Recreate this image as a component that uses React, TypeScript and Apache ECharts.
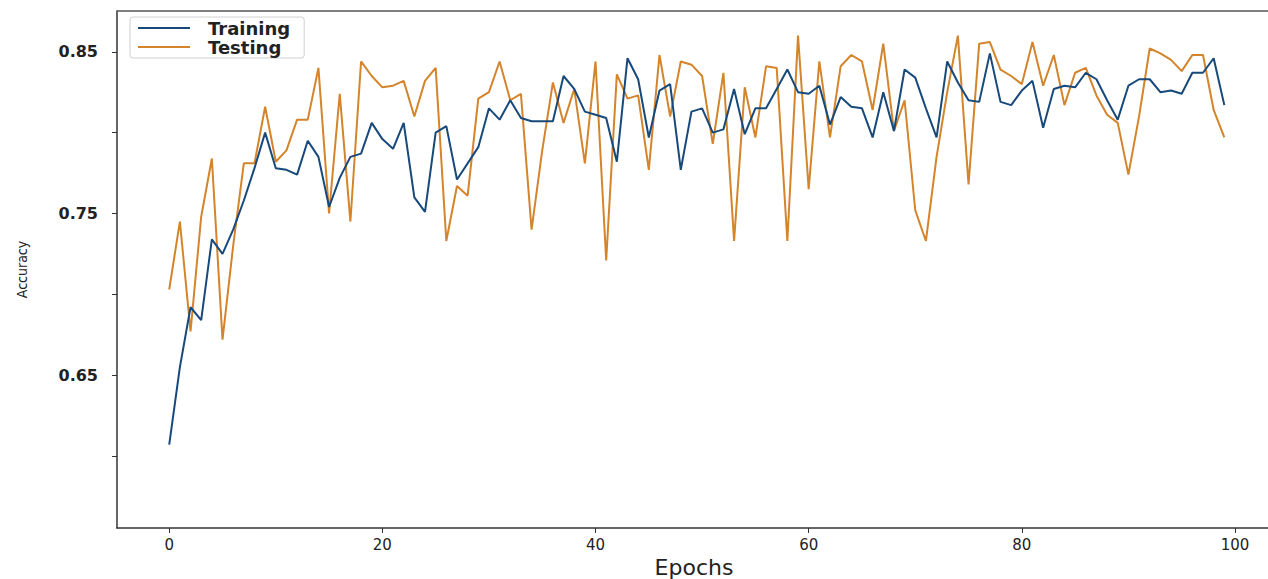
import React, { useEffect, useRef } from "react";
import * as echarts from "echarts";

const epochs: number[] = Array.from({ length: 100 }, (_, i) => i);

const training: number[] = [
  0.607, 0.655, 0.692, 0.684, 0.734, 0.725, 0.740, 0.758, 0.778, 0.800,
  0.778, 0.777, 0.774, 0.795, 0.785, 0.754, 0.772, 0.785, 0.787, 0.806,
  0.796, 0.790, 0.806, 0.760, 0.751, 0.800, 0.804, 0.771, 0.781, 0.791,
  0.815, 0.808, 0.820, 0.809, 0.807, 0.807, 0.807, 0.835, 0.827, 0.813,
  0.811, 0.809, 0.782, 0.846, 0.833, 0.797, 0.826, 0.830, 0.777, 0.813,
  0.815, 0.800, 0.802, 0.827, 0.799, 0.815, 0.815, 0.827, 0.839, 0.825,
  0.824, 0.829, 0.805, 0.822, 0.816, 0.815, 0.797, 0.825, 0.801, 0.839,
  0.834, 0.815, 0.797, 0.844, 0.831, 0.820, 0.819, 0.849, 0.819, 0.817,
  0.826, 0.832, 0.803, 0.827, 0.829, 0.828, 0.837, 0.833, 0.820, 0.808,
  0.829, 0.833, 0.833, 0.825, 0.826, 0.824, 0.837, 0.837, 0.846, 0.817,
];

const testing: number[] = [
  0.703, 0.745, 0.677, 0.748, 0.784, 0.672, 0.730, 0.781, 0.781, 0.816,
  0.782, 0.789, 0.808, 0.808, 0.840, 0.750, 0.824, 0.745, 0.844, 0.835,
  0.828, 0.829, 0.832, 0.810, 0.832, 0.840, 0.733, 0.767, 0.761, 0.821,
  0.825, 0.844, 0.820, 0.824, 0.740, 0.789, 0.831, 0.806, 0.827, 0.781,
  0.844, 0.721, 0.836, 0.821, 0.823, 0.777, 0.848, 0.810, 0.844, 0.842,
  0.835, 0.793, 0.837, 0.733, 0.828, 0.797, 0.841, 0.840, 0.733, 0.860,
  0.765, 0.844, 0.797, 0.841, 0.848, 0.844, 0.814, 0.855, 0.801, 0.820,
  0.752, 0.733, 0.785, 0.825, 0.860, 0.768, 0.855, 0.856, 0.839, 0.835,
  0.830, 0.856, 0.829, 0.848, 0.817, 0.837, 0.840, 0.823, 0.811, 0.806,
  0.774, 0.810, 0.852, 0.849, 0.845, 0.838, 0.848, 0.848, 0.814, 0.797,
];

const xTickValues: number[] = [0, 20, 40, 60, 80, 100];
const yTickValues: number[] = [0.6, 0.65, 0.7, 0.75, 0.8, 0.85];
const yLabelValues: number[] = [0.65, 0.75, 0.85];

const TRAIN_COLOR = "#17497a";
const TEST_COLOR = "#d4842b";
const AXIS_COLOR = "#333333";

export default function App() {
  const ref = useRef<HTMLDivElement>(null);

  useEffect(() => {
    if (!ref.current) return;
    const chart = echarts.init(ref.current, undefined, { renderer: "svg" });
    const option: any = {
      animation: false,
      backgroundColor: "#ffffff",
      grid: {
        left: 117,
        right: -3,
        top: 11,
        bottom: 51,
        containLabel: false,
        outerBounds: { left: -200, right: -200, top: -200, bottom: -200 },
      },
      legend: {
        orient: "vertical",
        left: 130,
        top: 17,
        itemWidth: 52,
        itemHeight: 2,
        itemGap: 1,
        padding: [2, 14, 2, 8],
        borderColor: "#d0d0d0",
        borderWidth: 1,
        borderRadius: 3,
        icon: "rect",
        data: ["Training", "Testing"],
        textStyle: {
          fontFamily: "DejaVu Sans",
          fontSize: 18,
          fontWeight: "bold",
          color: "#222",
          padding: [0, 0, 0, 13],
        },
      },
      graphic: [
        {
          type: "line",
          silent: true,
          z: 10,
          shape: { x1: 117, y1: 11, x2: 1268, y2: 11 },
          style: { stroke: "#555555", lineWidth: 1.5 },
        },
      ],
      xAxis: {
        type: "value",
        position: "bottom",
        min: -4.9,
        max: 103.38,
        name: "Epochs",
        nameLocation: "middle",
        nameGap: 24,
        nameTextStyle: { fontFamily: "DejaVu Sans", fontSize: 22, color: "#222" },
        axisLine: { show: true, onZero: false, lineStyle: { color: AXIS_COLOR, width: 1.5 } },
        axisTick: { show: true, length: 5, customValues: xTickValues, lineStyle: { color: AXIS_COLOR } },
        axisLabel: {
          customValues: xTickValues,
          margin: 9,
          fontFamily: "DejaVu Sans",
          fontSize: 15,
          color: "#222",
        },
        splitLine: { show: false },
      },
      yAxis: {
        type: "value",
        position: "left",
        min: 0.5555,
        max: 0.8752,
        name: "Accuracy",
        nameLocation: "middle",
        nameGap: 88,
        nameRotate: 90,
        nameTextStyle: { fontFamily: "DejaVu Sans Condensed", fontSize: 14, color: "#222" },
        axisLine: { show: true, onZero: false, lineStyle: { color: AXIS_COLOR, width: 1.5 } },
        axisTick: { show: true, length: 5, customValues: yTickValues, lineStyle: { color: AXIS_COLOR } },
        axisLabel: {
          customValues: yLabelValues,
          margin: 19,
          fontFamily: "DejaVu Sans",
          fontSize: 16,
          fontWeight: "bold",
          color: "#222",
          formatter: (v: number) => v.toFixed(2),
        },
        splitLine: { show: false },
      },
      series: [
        {
          name: "Training",
          type: "line",
          data: epochs.map((e, i) => [e, training[i]]),
          showSymbol: false,
          symbol: "none",
          lineStyle: { color: TRAIN_COLOR, width: 2 },
          itemStyle: { color: TRAIN_COLOR },
          z: 3,
        },
        {
          name: "Testing",
          type: "line",
          data: epochs.map((e, i) => [e, testing[i]]),
          showSymbol: false,
          symbol: "none",
          lineStyle: { color: TEST_COLOR, width: 2 },
          itemStyle: { color: TEST_COLOR },
          z: 2,
        },
      ],
    };
    chart.setOption(option);
    return () => chart.dispose();
  }, []);

  return (
    <div
      ref={ref}
      style={{ position: "fixed", left: 0, top: 0, width: 1268, height: 579, background: "#fff" }}
    />
  );
}
